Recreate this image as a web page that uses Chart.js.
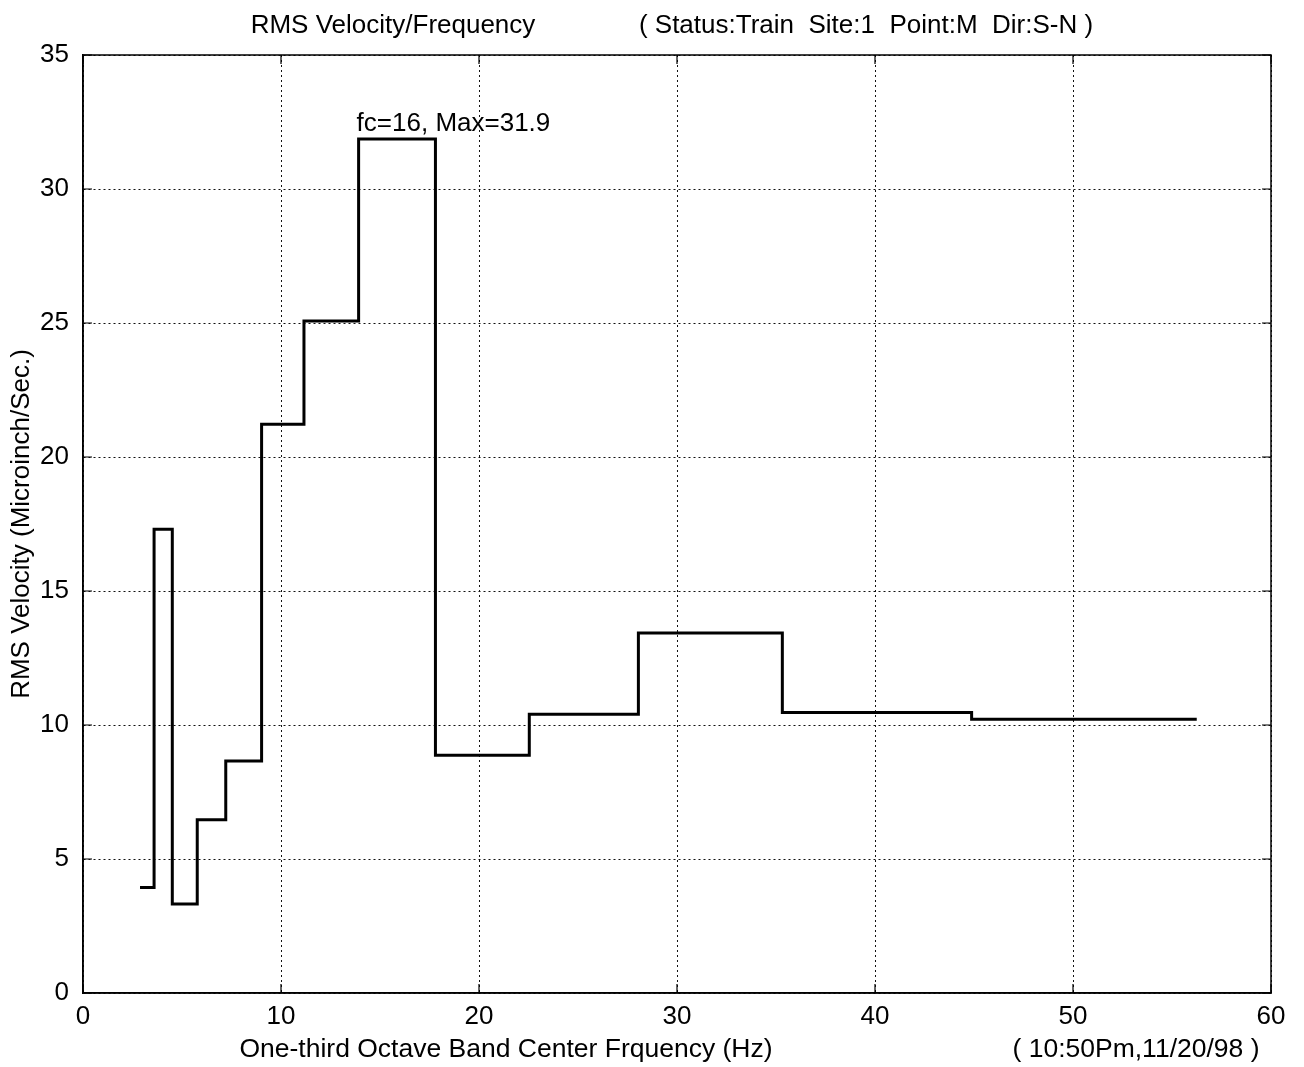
<!DOCTYPE html>
<html>
<head>
<meta charset="utf-8">
<script src="https://cdn.jsdelivr.net/npm/chart.js@4/dist/chart.umd.min.js"></script>
<style>
  html, body { margin: 0; padding: 0; background: #fff; }
  #wrap { width: 1304px; height: 1067px; }
</style>
</head>
<body>
<div id="wrap"><canvas id="c" width="1304" height="1067"></canvas></div>
<script>
// One-third octave band centre frequencies (Hz)
const bandCenters = [3.15, 4, 5, 6.3, 8, 10, 12.5, 16, 20, 25, 31.5, 40, 50];
// Band edges as drawn (Hz): left edge of each band, then right edge of last band
const bandEdges = [2.88, 3.59, 4.51, 5.77, 7.21, 9.02, 11.16, 13.92, 17.8, 22.54, 28.05, 35.32, 44.88, 56.25];
// RMS velocity per band (microinch/sec)
const rmsVelocity = [3.94, 17.30, 3.32, 6.46, 8.66, 21.22, 25.07, 31.87, 8.87, 10.40, 13.43, 10.47, 10.21];
// Tick labels
const xTicks = [0, 10, 20, 30, 40, 50, 60];
const yTicks = [0, 5, 10, 15, 20, 25, 30, 35];

const titleText = 'RMS Velocity/Frequency';
const statusText = '( Status:Train  Site:1  Point:M  Dir:S-N )';
const xLabelText = 'One-third Octave Band Center Frquency (Hz)';
const yLabelText = 'RMS Velocity (Microinch/Sec.)';
const dateText = '( 10:50Pm,11/20/98 )';

const FONT = '"Liberation Sans", Arial, Helvetica, sans-serif';

const points = rmsVelocity.map((v, i) => ({ x: bandEdges[i], y: v }));
points.push({ x: bandEdges[bandEdges.length - 1], y: rmsVelocity[rmsVelocity.length - 1] });

let maxIdx = 0;
rmsVelocity.forEach((v, i) => { if (v > rmsVelocity[maxIdx]) maxIdx = i; });
const annotText = 'fc=' + bandCenters[maxIdx] + ', Max=' + rmsVelocity[maxIdx].toFixed(1);

const decor = {
  id: 'decor',
  beforeDraw(chart) {
    const ctx = chart.ctx;
    ctx.save();
    ctx.fillStyle = '#fff';
    ctx.fillRect(0, 0, chart.width, chart.height);
    ctx.restore();
  },
  afterDraw(chart) {
    const ctx = chart.ctx;
    const a = chart.chartArea;
    const xs = chart.scales.x, ys = chart.scales.y;
    ctx.save();
    // box
    ctx.strokeStyle = '#000';
    ctx.lineWidth = 1.5;
    ctx.setLineDash([]);
    ctx.strokeRect(a.left, a.top, a.right - a.left, a.bottom - a.top);
    // inward ticks
    ctx.lineWidth = 1.2;
    const tl = 9;
    xTicks.forEach(t => {
      const px = xs.getPixelForValue(t);
      ctx.beginPath();
      ctx.moveTo(px, a.bottom); ctx.lineTo(px, a.bottom - tl);
      ctx.moveTo(px, a.top); ctx.lineTo(px, a.top + tl);
      ctx.stroke();
    });
    yTicks.forEach(t => {
      const py = ys.getPixelForValue(t);
      ctx.beginPath();
      ctx.moveTo(a.left, py); ctx.lineTo(a.left + tl, py);
      ctx.moveTo(a.right, py); ctx.lineTo(a.right - tl, py);
      ctx.stroke();
    });
    // texts
    ctx.fillStyle = '#000';
    ctx.font = '26px ' + FONT;
    ctx.textBaseline = 'middle';
    ctx.textAlign = 'center';
    ctx.fillText(titleText, 393, 26);
    ctx.fillText(statusText, 866, 26);
    ctx.font = '26.5px ' + FONT;
    ctx.fillText(xLabelText, 506, 1050);
    ctx.fillText(dateText, 1136, 1050);
    // annotation at max band
    ctx.font = '26px ' + FONT;
    ctx.textAlign = 'left';
    ctx.textBaseline = 'alphabetic';
    ctx.fillText(annotText, xs.getPixelForValue(bandEdges[maxIdx]) - 2, ys.getPixelForValue(rmsVelocity[maxIdx]) - 8);
    // y label
    ctx.translate(22, (a.top + a.bottom) / 2);
    ctx.rotate(-Math.PI / 2);
    ctx.textAlign = 'center';
    ctx.textBaseline = 'middle';
    ctx.fillText(yLabelText, 0, 0);
    ctx.restore();
  }
};

new Chart(document.getElementById('c'), {
  type: 'line',
  data: {
    datasets: [{
      data: points,
      stepped: 'before',
      borderColor: '#000',
      borderWidth: 3,
      borderJoinStyle: 'miter',
      borderCapStyle: 'butt',
      pointRadius: 0,
      fill: false,
      tension: 0
    }]
  },
  options: {
    responsive: false,
    devicePixelRatio: 1,
    animation: false,
    layout: { padding: { top: 55, right: 33, left: 0, bottom: 0 } },
    plugins: { legend: { display: false }, tooltip: { enabled: false }, title: { display: false } },
    scales: {
      x: {
        type: 'linear',
        min: 0, max: 60,
        afterBuildTicks(scale) { scale.ticks = xTicks.map(v => ({ value: v })); },
        afterFit(scale) { scale.height = 74; },
        ticks: { color: '#000', font: { family: FONT, size: 26 }, padding: 8, maxRotation: 0 },
        grid: { color: '#111', lineWidth: 1, drawTicks: false },
        border: { display: true, color: '#000', width: 1.5, dash: [2, 3] }
      },
      y: {
        type: 'linear',
        min: 0, max: 35,
        afterBuildTicks(scale) { scale.ticks = yTicks.map(v => ({ value: v })); },
        afterFit(scale) { scale.width = 83; },
        ticks: { color: '#000', font: { family: FONT, size: 26 }, padding: 14 },
        grid: { color: '#111', lineWidth: 1, drawTicks: false },
        border: { display: true, color: '#000', width: 1.5, dash: [2, 3] }
      }
    }
  },
  plugins: [decor]
});
</script>
</body>
</html>
